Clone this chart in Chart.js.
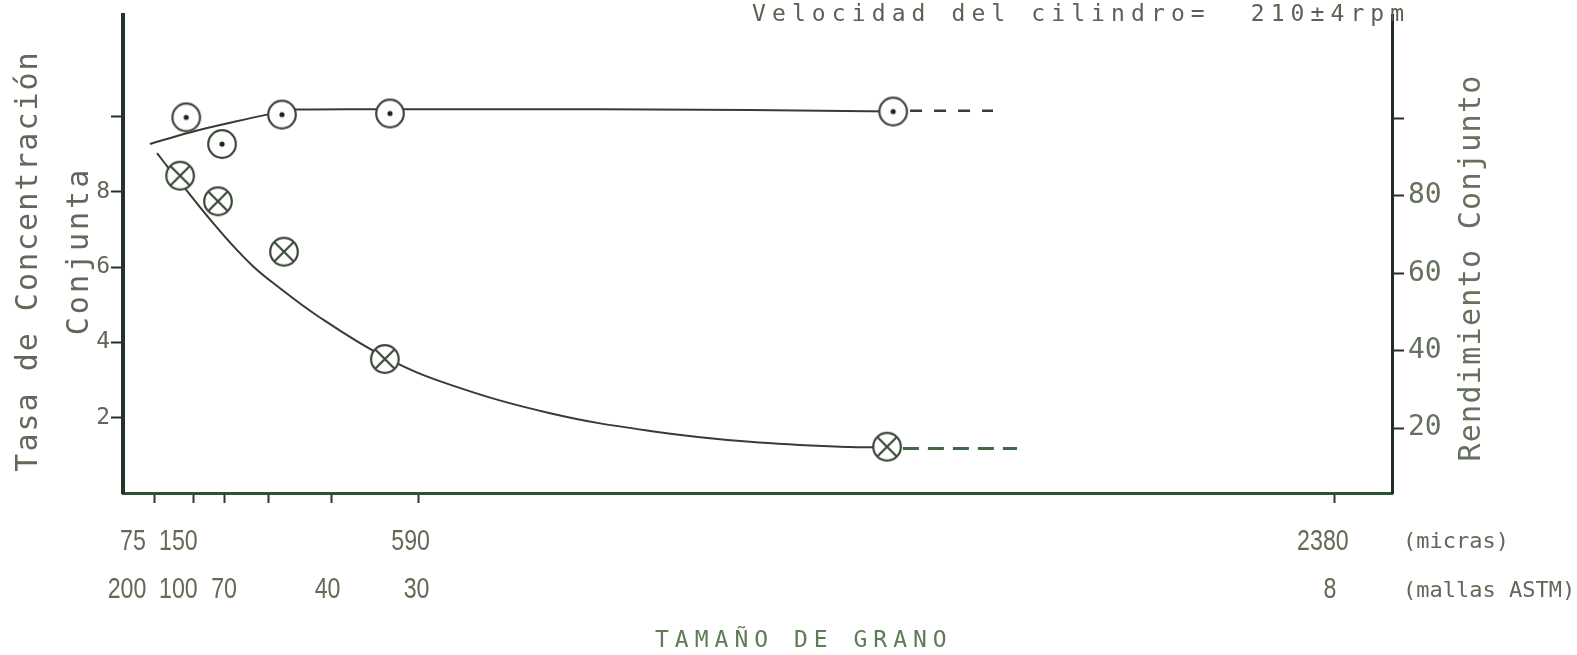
<!DOCTYPE html>
<html>
<head>
<meta charset="utf-8">
<script src="https://cdn.jsdelivr.net/npm/chart.js@4.4.1/dist/chart.umd.min.js"></script>
<style>
  html, body { margin: 0; padding: 0; background: #fff; }
</style>
</head>
<body>
<canvas id="myChart" width="1577" height="655"></canvas>
<script>
// eje X: tamaño de grano (micras), ticks y sus dos filas de etiquetas
const xTickValues = [75, 150, 210, 297, 420, 590, 2380];
const micrasLabels = ['75', '150', '', '', '', '590', '2380'];
const mallasLabels = ['200', '100', '70', '', '40', '30', '8'];

// ejes Y
const leftTicks = [2, 4, 6, 8, 10];
const leftTickLabels = ['2', '4', '6', '8', ''];
const rightTicks = [20, 40, 60, 80, 100];
const rightTickLabels = ['20', '40', '60', '80', ''];

// puntos medidos (circulo con punto) -> Rendimiento
const rendX = [136, 206, 323, 534, 1517];
const rendY = [100.3, 93.4, 101.0, 101.3, 101.8];
// puntos medidos (circulo con cruz) -> Tasa de concentracion
const tasaX = [124, 198, 327, 524, 1505];
const tasaY = [8.43, 7.75, 6.41, 3.56, 1.23];

// curvas trazadas a mano
const rendCurveX = [65, 143, 222, 294, 352, 450, 671, 944, 1237, 1517];
const rendCurveY = [93.4, 96.4, 98.9, 101.0, 102.3, 102.4, 102.4, 102.4, 102.2, 101.8];
const rendDashX = [1550, 1712];
const rendDashY = [102.0, 102.0];

const tasaCurveX = [79, 100, 134, 177, 222, 267, 306, 392, 524, 651, 847, 1042, 1237, 1433, 1505];
const tasaCurveY = [9.03, 8.66, 8.09, 7.36, 6.65, 6.02, 5.58, 4.71, 3.61, 2.88, 2.12, 1.65, 1.36, 1.22, 1.22];
const tasaDashX = [1536, 1759];
const tasaDashY = [1.18, 1.18];

const pts = (xs, ys) => xs.map((x, i) => ({ x: x, y: ys[i] }));

function makeMarker(kind) {
    const c = document.createElement('canvas');
    c.width = 34; c.height = 34;
    const g = c.getContext('2d');
    g.fillStyle = '#fff';
    g.strokeStyle = '#3a4838';
    g.lineWidth = 2.2;
    g.beginPath(); g.arc(17, 17, 13.8, 0, Math.PI * 2); g.fill(); g.stroke();
    if (kind === 'dot') {
        g.fillStyle = '#222';
        g.beginPath(); g.arc(17, 17, 2.6, 0, Math.PI * 2); g.fill();
    } else {
        const r = 13.8 * 0.707;
        g.beginPath();
        g.moveTo(17 - r, 17 - r); g.lineTo(17 + r, 17 + r);
        g.moveTo(17 + r, 17 - r); g.lineTo(17 - r, 17 + r);
        g.stroke();
    }
    return c;
}

const textColor = '#66655a';
const mono = "'DejaVu Sans Mono', 'Liberation Mono', monospace";

// las cifras del eje estan rotuladas a mano, un poco corridas respecto a su marca
const micrasNudge = [-22, -15, 0, 0, 0, -8, -12];
const mallasNudge = [-28, -15, 0, 0, -4, -2, -5];

// textos del dibujo (titulos de ejes, etiquetas del eje X, nota de velocidad)
const textosPlugin = {
    id: 'textos',
    afterDraw(chart) {
        const ctx = chart.ctx;
        function vtext(str, x, y, size, spacing, color) {
            ctx.save();
            ctx.translate(x, y);
            ctx.rotate(-Math.PI / 2);
            ctx.font = size + 'px ' + mono;
            ctx.letterSpacing = spacing + 'px';
            ctx.fillStyle = color;
            ctx.textAlign = 'center';
            ctx.textBaseline = 'alphabetic';
            ctx.fillText(str, 0, 0);
            ctx.restore();
        }
        function htext(str, x, y, size, spacing, color, base) {
            ctx.save();
            ctx.font = size + 'px ' + mono;
            ctx.letterSpacing = spacing + 'px';
            ctx.fillStyle = color;
            ctx.textAlign = 'left';
            ctx.textBaseline = base || 'alphabetic';
            ctx.fillText(str, x, y);
            ctx.restore();
        }
        // numeros del eje X, letra estrecha
        function narrowText(str, x, y) {
            ctx.save();
            ctx.translate(x, y);
            ctx.scale(0.8, 1);
            ctx.font = "29px 'Liberation Sans', Arial, sans-serif";
            ctx.fillStyle = '#6a6756';
            ctx.textAlign = 'center';
            ctx.textBaseline = 'middle';
            ctx.fillText(str, 0, 0);
            ctx.restore();
        }
        const xs = chart.scales.x;
        xTickValues.forEach((v, i) => {
            const px = xs.getPixelForValue(v);
            if (micrasLabels[i]) narrowText(micrasLabels[i], px + micrasNudge[i], 542);
            if (mallasLabels[i]) narrowText(mallasLabels[i], px + mallasNudge[i], 590);
        });

        vtext('Tasa de Concentración', 37, 261, 30, 2, textColor);
        vtext('Conjunta', 88, 251, 30, 3, textColor);
        vtext('Rendimiento Conjunto', 1480, 268, 30, 1.3, '#66705e');
        htext('Velocidad del cilindro=  210±4rpm', 752, 21, 23, 6.1, '#5f5e52');
        htext('TAMAÑO DE GRANO', 655, 647, 23, 6, '#5f7b57');
        htext('(micras)', 1403, 542, 22, 0, textColor, 'middle');
        htext('(mallas ASTM)', 1403, 591, 22, 0, textColor, 'middle');
    }
};

const ctx = document.getElementById('myChart').getContext('2d');
new Chart(ctx, {
    type: 'line',
    data: {
        datasets: [
            {
                label: 'Rendimiento',
                data: pts(rendX, rendY),
                yAxisID: 'y2',
                showLine: false,
                pointStyle: makeMarker('dot'),
                pointRadius: 14,
                order: 0
            },
            {
                label: 'Tasa',
                data: pts(tasaX, tasaY),
                yAxisID: 'y',
                showLine: false,
                pointStyle: makeMarker('cross'),
                pointRadius: 14,
                order: 0
            },
            {
                data: pts(rendCurveX, rendCurveY),
                yAxisID: 'y2',
                borderColor: '#3a3a34',
                borderWidth: 2,
                pointRadius: 0,
                cubicInterpolationMode: 'monotone',
                order: 1
            },
            {
                data: pts(rendDashX, rendDashY),
                yAxisID: 'y2',
                borderColor: '#3a3a34',
                borderWidth: 2.5,
                borderDash: [12, 12],
                pointRadius: 0,
                order: 1
            },
            {
                data: pts(tasaCurveX, tasaCurveY),
                yAxisID: 'y',
                borderColor: '#3a3a34',
                borderWidth: 2,
                pointRadius: 0,
                tension: 0.4,
                order: 1
            },
            {
                data: pts(tasaDashX, tasaDashY),
                yAxisID: 'y',
                borderColor: '#3f6a45',
                borderWidth: 3,
                borderDash: [16, 9],
                pointRadius: 0,
                order: 1
            }
        ]
    },
    options: {
        responsive: false,
        animation: false,
        layout: { padding: { top: 8, left: 0, right: 0, bottom: 0 } },
        plugins: {
            legend: { display: false },
            tooltip: { enabled: false }
        },
        scales: {
            x: {
                type: 'linear',
                min: 12.5,
                max: 2491.5,
                afterBuildTicks: s => { s.ticks = xTickValues.map(v => ({ value: v })); },
                afterFit: s => { s.height = 162; s.paddingLeft = 0; s.paddingRight = 0; },
                grid: { drawOnChartArea: false, drawTicks: true, tickLength: 10, tickWidth: 2, tickColor: '#2a3a2c' },
                border: { display: true, color: '#2d5236', width: 3 },
                ticks: { display: false }
            },
            y: {
                type: 'linear',
                position: 'left',
                min: 0,
                max: 12.7,
                afterBuildTicks: s => { s.ticks = leftTicks.map(v => ({ value: v })); },
                afterFit: s => { s.width = 123; s.paddingTop = 0; s.paddingBottom = 0; },
                grid: { drawOnChartArea: false, tickLength: 12, tickWidth: 2, tickColor: '#2a2e28' },
                border: { display: true, color: '#263328', width: 4 },
                ticks: {
                    padding: 1,
                    color: textColor,
                    font: { family: mono, size: 23 },
                    callback: (v, i) => leftTickLabels[i]
                }
            },
            y2: {
                type: 'linear',
                position: 'right',
                min: 3.2,
                max: 126.75,
                afterBuildTicks: s => { s.ticks = rightTicks.map(v => ({ value: v })); },
                afterFit: s => { s.width = 185; s.paddingTop = 0; s.paddingBottom = 0; },
                grid: { drawOnChartArea: false, tickLength: 12, tickWidth: 2, tickColor: '#2a2e28' },
                border: { display: true, color: '#1f2f25', width: 3 },
                ticks: {
                    padding: 4,
                    color: '#66705e',
                    font: { family: mono, size: 28 },
                    callback: (v, i) => rightTickLabels[i]
                }
            }
        }
    },
    plugins: [textosPlugin]
});
</script>
</body>
</html>
